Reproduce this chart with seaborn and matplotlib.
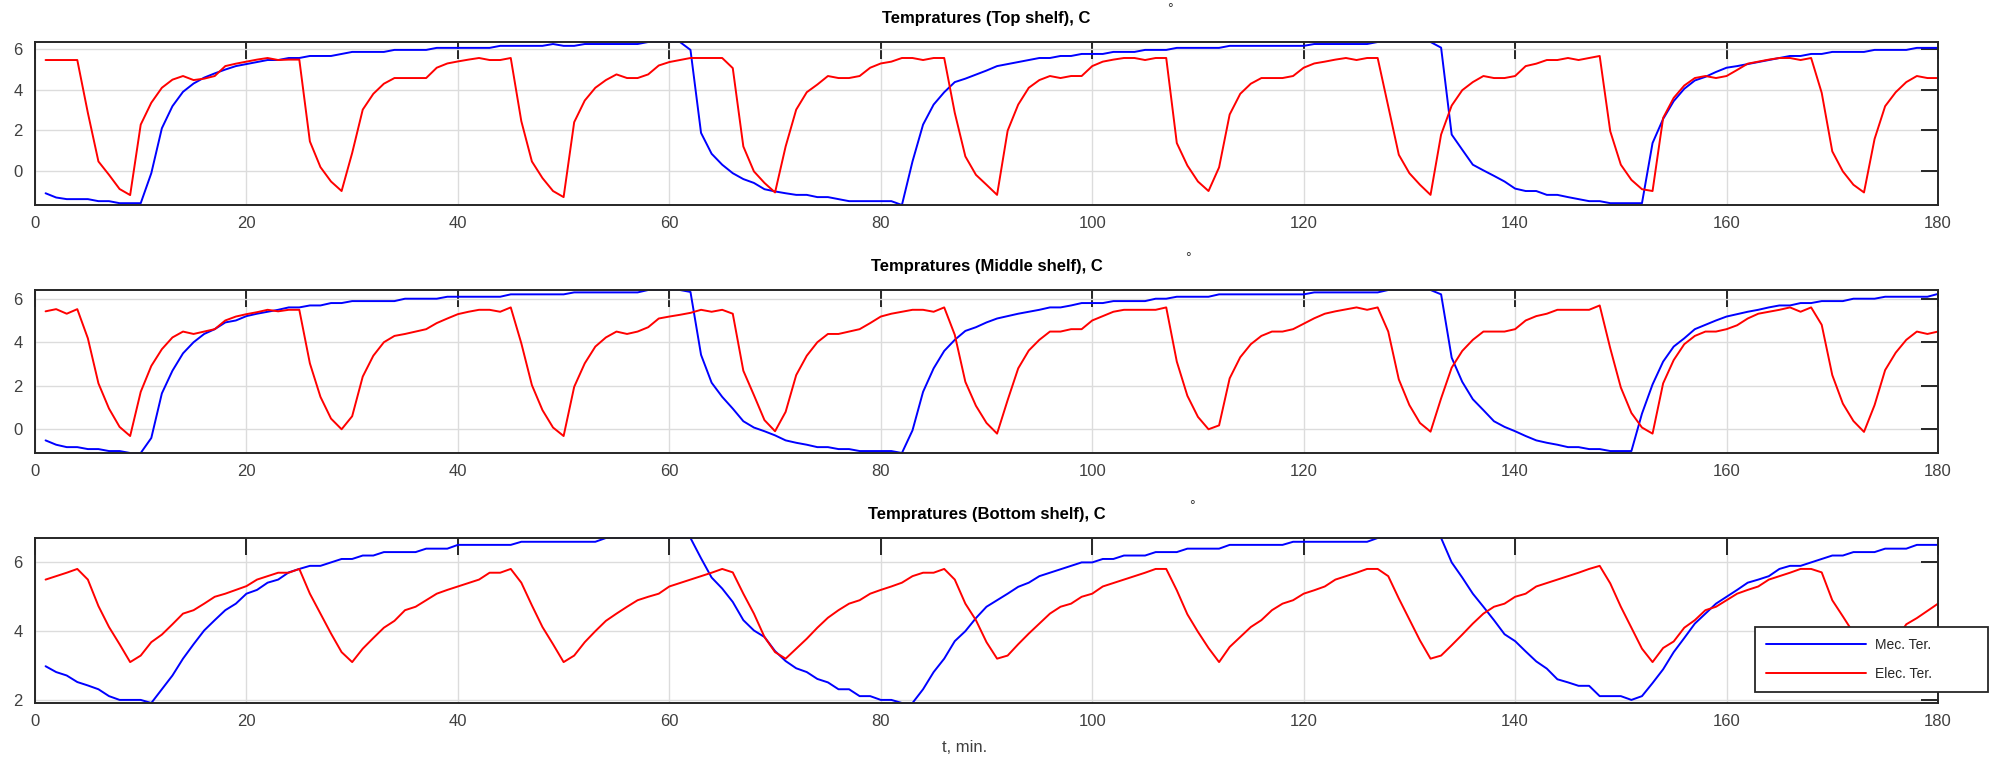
import numpy as np
import pandas as pd
import matplotlib
matplotlib.use("Agg")
import matplotlib.pyplot as plt
import seaborn as sns

# ── Data: temperature readings, one per minute (t = 1..180) ──
T_MIN = list(range(1, 181))

TOP_MEC = [
    -1.11, -1.32, -1.40, -1.40, -1.40, -1.50, -1.50, -1.60, -1.60, -1.60,
    -0.12, 2.10, 3.19, 3.90, 4.31, 4.60, 4.81, 5.00, 5.17, 5.27,
    5.37, 5.47, 5.47, 5.57, 5.57, 5.67, 5.67, 5.67, 5.77, 5.87,
    5.87, 5.87, 5.87, 5.97, 5.97, 5.97, 5.97, 6.07, 6.07, 6.07,
    6.07, 6.07, 6.07, 6.17, 6.17, 6.17, 6.17, 6.17, 6.26, 6.17,
    6.17, 6.26, 6.26, 6.26, 6.26, 6.26, 6.26, 6.36, 6.36, 6.36,
    6.36, 5.97, 1.87, 0.84, 0.30, -0.12, -0.41, -0.60, -0.91, -1.02,
    -1.11, -1.19, -1.19, -1.30, -1.30, -1.40, -1.50, -1.50, -1.50, -1.50,
    -1.50, -1.69, 0.46, 2.28, 3.27, 3.88, 4.38, 4.55, 4.75, 4.95,
    5.17, 5.27, 5.37, 5.47, 5.57, 5.57, 5.67, 5.67, 5.77, 5.77,
    5.77, 5.87, 5.87, 5.87, 5.97, 5.97, 5.97, 6.07, 6.07, 6.07,
    6.07, 6.07, 6.17, 6.17, 6.17, 6.17, 6.17, 6.17, 6.17, 6.17,
    6.26, 6.26, 6.26, 6.26, 6.26, 6.26, 6.36, 6.36, 6.36, 6.36,
    6.36, 6.36, 6.08, 1.79, 1.04, 0.30, 0.02, -0.25, -0.53, -0.88,
    -1.00, -1.00, -1.19, -1.19, -1.30, -1.40, -1.50, -1.50, -1.60, -1.60,
    -1.60, -1.60, 1.37, 2.56, 3.44, 4.05, 4.46, 4.64, 4.88, 5.09,
    5.17, 5.27, 5.37, 5.47, 5.57, 5.67, 5.67, 5.77, 5.77, 5.87,
    5.87, 5.87, 5.87, 5.97, 5.97, 5.97, 5.97, 6.07, 6.07, 6.07,
]
TOP_ELEC = [
    5.47, 5.47, 5.47, 5.47, 2.86, 0.46, -0.20, -0.90, -1.20, 2.28,
    3.36, 4.10, 4.50, 4.68, 4.48, 4.55, 4.68, 5.17, 5.29, 5.39,
    5.49, 5.57, 5.47, 5.49, 5.49, 1.45, 0.18, -0.53, -1.00, 0.88,
    3.02, 3.80, 4.30, 4.58, 4.58, 4.58, 4.58, 5.09, 5.30, 5.40,
    5.49, 5.57, 5.47, 5.47, 5.57, 2.45, 0.46, -0.36, -1.00, -1.30,
    2.40, 3.47, 4.10, 4.48, 4.76, 4.58, 4.58, 4.76, 5.20, 5.37,
    5.47, 5.57, 5.57, 5.57, 5.57, 5.07, 1.20, -0.03, -0.60, -1.07,
    1.20, 3.02, 3.88, 4.26, 4.68, 4.58, 4.58, 4.68, 5.09, 5.30,
    5.39, 5.57, 5.57, 5.47, 5.57, 5.57, 2.86, 0.71, -0.20, -0.69,
    -1.19, 1.98, 3.27, 4.10, 4.48, 4.68, 4.58, 4.68, 4.68, 5.17,
    5.39, 5.49, 5.57, 5.57, 5.47, 5.57, 5.57, 1.37, 0.26, -0.53,
    -1.00, 0.17, 2.78, 3.80, 4.30, 4.58, 4.58, 4.58, 4.68, 5.09,
    5.30, 5.39, 5.49, 5.57, 5.47, 5.57, 5.57, 3.19, 0.79, -0.12,
    -0.69, -1.19, 1.79, 3.22, 3.98, 4.38, 4.68, 4.58, 4.58, 4.68,
    5.17, 5.29, 5.47, 5.47, 5.57, 5.47, 5.57, 5.67, 1.95, 0.30,
    -0.45, -0.91, -1.00, 2.61, 3.60, 4.21, 4.58, 4.68, 4.58, 4.68,
    4.98, 5.29, 5.39, 5.49, 5.57, 5.57, 5.47, 5.57, 3.85, 0.96,
    -0.03, -0.69, -1.07, 1.57, 3.19, 3.88, 4.38, 4.68, 4.58, 4.58,
]

MID_MEC = [
    -0.51, -0.71, -0.82, -0.82, -0.91, -0.91, -1.00, -1.00, -1.09, -1.09,
    -0.40, 1.65, 2.69, 3.49, 4.00, 4.38, 4.60, 4.91, 5.00, 5.20,
    5.31, 5.40, 5.49, 5.60, 5.60, 5.69, 5.69, 5.80, 5.80, 5.89,
    5.89, 5.89, 5.89, 5.89, 6.00, 6.00, 6.00, 6.00, 6.09, 6.09,
    6.09, 6.09, 6.09, 6.09, 6.20, 6.20, 6.20, 6.20, 6.20, 6.20,
    6.29, 6.29, 6.29, 6.29, 6.29, 6.29, 6.29, 6.40, 6.40, 6.40,
    6.40, 6.31, 3.42, 2.14, 1.49, 0.95, 0.37, 0.08, -0.09, -0.28,
    -0.51, -0.62, -0.71, -0.82, -0.82, -0.91, -0.91, -1.00, -1.00, -1.00,
    -1.00, -1.09, -0.05, 1.72, 2.80, 3.60, 4.11, 4.52, 4.69, 4.91,
    5.09, 5.20, 5.31, 5.40, 5.49, 5.60, 5.60, 5.69, 5.80, 5.80,
    5.80, 5.89, 5.89, 5.89, 5.89, 6.00, 6.00, 6.09, 6.09, 6.09,
    6.09, 6.20, 6.20, 6.20, 6.20, 6.20, 6.20, 6.20, 6.20, 6.20,
    6.29, 6.29, 6.29, 6.29, 6.29, 6.29, 6.29, 6.40, 6.40, 6.40,
    6.40, 6.40, 6.20, 3.29, 2.18, 1.38, 0.88, 0.37, 0.11, -0.09,
    -0.31, -0.51, -0.62, -0.71, -0.82, -0.82, -0.91, -0.91, -1.00, -1.00,
    -1.00, 0.72, 2.06, 3.11, 3.80, 4.18, 4.60, 4.80, 5.00, 5.18,
    5.29, 5.40, 5.49, 5.60, 5.69, 5.69, 5.80, 5.80, 5.89, 5.89,
    5.89, 6.00, 6.00, 6.00, 6.09, 6.09, 6.09, 6.09, 6.09, 6.22,
]
MID_ELEC = [
    5.42, 5.52, 5.31, 5.52, 4.18, 2.11, 0.95, 0.11, -0.31, 1.72,
    2.91, 3.68, 4.22, 4.49, 4.38, 4.49, 4.60, 5.00, 5.18, 5.29,
    5.38, 5.49, 5.42, 5.49, 5.49, 3.03, 1.49, 0.49, 0.00, 0.60,
    2.42, 3.38, 4.00, 4.29, 4.38, 4.49, 4.60, 4.88, 5.09, 5.29,
    5.40, 5.49, 5.49, 5.40, 5.60, 3.95, 2.03, 0.88, 0.08, -0.31,
    1.95, 3.03, 3.80, 4.22, 4.49, 4.38, 4.49, 4.69, 5.09, 5.18,
    5.26, 5.35, 5.49, 5.40, 5.49, 5.31, 2.69, 1.57, 0.42, -0.09,
    0.80, 2.49, 3.38, 4.00, 4.38, 4.38, 4.49, 4.60, 4.88, 5.18,
    5.31, 5.40, 5.49, 5.49, 5.40, 5.60, 4.34, 2.18, 1.08, 0.29,
    -0.20, 1.34, 2.80, 3.62, 4.11, 4.49, 4.49, 4.60, 4.60, 5.00,
    5.20, 5.40, 5.49, 5.49, 5.49, 5.49, 5.60, 3.11, 1.54, 0.57,
    0.00, 0.18, 2.34, 3.31, 3.91, 4.29, 4.49, 4.49, 4.60, 4.85,
    5.10, 5.31, 5.42, 5.51, 5.60, 5.49, 5.60, 4.49, 2.29, 1.11,
    0.29, -0.11, 1.42, 2.83, 3.60, 4.11, 4.49, 4.49, 4.49, 4.60,
    5.00, 5.20, 5.31, 5.49, 5.49, 5.49, 5.49, 5.69, 3.72, 1.92,
    0.75, 0.08, -0.20, 2.11, 3.18, 3.91, 4.29, 4.49, 4.49, 4.60,
    4.78, 5.09, 5.31, 5.40, 5.49, 5.60, 5.40, 5.60, 4.80, 2.49,
    1.18, 0.38, -0.12, 1.11, 2.72, 3.52, 4.11, 4.49, 4.38, 4.49,
]

BOT_MEC = [
    2.98, 2.81, 2.71, 2.52, 2.42, 2.31, 2.11, 2.00, 2.00, 2.00,
    1.91, 2.31, 2.71, 3.20, 3.62, 4.02, 4.32, 4.61, 4.80, 5.09,
    5.20, 5.41, 5.50, 5.71, 5.81, 5.90, 5.90, 6.00, 6.10, 6.10,
    6.20, 6.20, 6.30, 6.30, 6.30, 6.30, 6.40, 6.40, 6.40, 6.51,
    6.51, 6.51, 6.51, 6.51, 6.51, 6.60, 6.60, 6.60, 6.60, 6.60,
    6.60, 6.60, 6.60, 6.71, 6.71, 6.71, 6.71, 6.71, 6.71, 6.71,
    6.71, 6.71, 6.12, 5.56, 5.24, 4.85, 4.32, 4.02, 3.83, 3.42,
    3.13, 2.92, 2.81, 2.61, 2.51, 2.31, 2.31, 2.11, 2.11, 2.00,
    2.00, 1.91, 1.91, 2.31, 2.81, 3.20, 3.71, 4.00, 4.38, 4.71,
    4.90, 5.09, 5.29, 5.41, 5.60, 5.70, 5.80, 5.90, 6.00, 6.00,
    6.10, 6.10, 6.20, 6.20, 6.20, 6.30, 6.30, 6.30, 6.40, 6.40,
    6.40, 6.40, 6.51, 6.51, 6.51, 6.51, 6.51, 6.51, 6.60, 6.60,
    6.60, 6.60, 6.60, 6.60, 6.60, 6.60, 6.71, 6.71, 6.71, 6.71,
    6.71, 6.71, 6.71, 6.00, 5.56, 5.09, 4.71, 4.32, 3.91, 3.71,
    3.41, 3.12, 2.91, 2.60, 2.51, 2.41, 2.41, 2.11, 2.11, 2.11,
    2.00, 2.11, 2.49, 2.89, 3.39, 3.80, 4.22, 4.51, 4.80, 5.00,
    5.20, 5.41, 5.50, 5.60, 5.81, 5.90, 5.90, 6.00, 6.10, 6.20,
    6.20, 6.30, 6.30, 6.30, 6.40, 6.40, 6.40, 6.51, 6.51, 6.51,
]
BOT_ELEC = [
    5.50, 5.60, 5.70, 5.81, 5.50, 4.73, 4.12, 3.62, 3.10, 3.29,
    3.68, 3.90, 4.20, 4.51, 4.61, 4.80, 5.00, 5.09, 5.20, 5.31,
    5.50, 5.60, 5.70, 5.70, 5.81, 5.09, 4.51, 3.93, 3.39, 3.10,
    3.49, 3.80, 4.10, 4.30, 4.61, 4.71, 4.90, 5.09, 5.20, 5.30,
    5.40, 5.50, 5.70, 5.70, 5.81, 5.41, 4.75, 4.12, 3.62, 3.10,
    3.29, 3.68, 4.00, 4.30, 4.51, 4.71, 4.90, 5.00, 5.09, 5.30,
    5.40, 5.50, 5.60, 5.70, 5.81, 5.71, 5.09, 4.51, 3.83, 3.39,
    3.20, 3.49, 3.78, 4.10, 4.39, 4.61, 4.80, 4.90, 5.09, 5.20,
    5.30, 5.41, 5.60, 5.70, 5.70, 5.81, 5.50, 4.80, 4.32, 3.68,
    3.20, 3.29, 3.62, 3.93, 4.22, 4.51, 4.71, 4.80, 5.00, 5.09,
    5.30, 5.40, 5.50, 5.60, 5.70, 5.81, 5.81, 5.19, 4.49, 3.98,
    3.51, 3.10, 3.54, 3.83, 4.12, 4.32, 4.61, 4.80, 4.90, 5.09,
    5.19, 5.30, 5.50, 5.60, 5.70, 5.81, 5.81, 5.60, 4.95, 4.34,
    3.73, 3.20, 3.29, 3.59, 3.90, 4.22, 4.51, 4.71, 4.80, 5.00,
    5.09, 5.30, 5.40, 5.50, 5.60, 5.70, 5.81, 5.90, 5.39, 4.71,
    4.10, 3.49, 3.10, 3.51, 3.70, 4.10, 4.32, 4.61, 4.71, 4.90,
    5.09, 5.20, 5.30, 5.50, 5.60, 5.70, 5.81, 5.81, 5.71, 4.90,
    4.43, 3.95, 3.45, 3.10, 3.40, 3.75, 4.20, 4.38, 4.59, 4.80,
]

SHELVES = ["Top shelf", "Middle shelf", "Bottom shelf"]
SERIES_NAMES = ["Mec. Ter.", "Elec. Ter."]
X_TICKS = list(range(0, 181, 20))
Y_TICKS = [[0, 2, 4, 6], [0, 2, 4, 6], [2, 4, 6]]

PALETTE = {"Mec. Ter.": "#0000FF", "Elec. Ter.": "#FF0000"}
TICK_COLOR = "#262626"
LABEL_COLOR = "#404040"

sns.set_theme(style="white")
plt.rcParams["font.family"] = ["Liberation Sans", "DejaVu Sans"]

W, H = 1990, 757
fig = plt.figure(figsize=(W / 100, H / 100), dpi=100)

# axes boxes in pixels: (top, bottom)
LEFT_PX, RIGHT_PX = 35, 1938
AX_ROWS_PX = [(42, 205), (290, 453), (538, 703)]
DEG_MARKS_PX = [(1170, 13), (1188, 262), (1192, 510)]

panels = [(TOP_MEC, TOP_ELEC), (MID_MEC, MID_ELEC), (BOT_MEC, BOT_ELEC)]

axes = []
for i, ((mec, elec), (top, bot)) in enumerate(zip(panels, AX_ROWS_PX)):
    ax = fig.add_axes([LEFT_PX / W, 1 - bot / H, (RIGHT_PX - LEFT_PX) / W, (bot - top) / H])
    df = pd.DataFrame({
        "t": T_MIN * 2,
        "temp": list(mec) + list(elec),
        "kind": [SERIES_NAMES[0]] * len(mec) + [SERIES_NAMES[1]] * len(elec),
    })
    sns.lineplot(data=df, x="t", y="temp", hue="kind", palette=PALETTE,
                 estimator=None, errorbar=None, linewidth=1.4,
                 legend=(i == 2), ax=ax)
    for ln in ax.get_lines():
        ln.set_clip_on(False)

    lo = min(min(mec), min(elec))
    hi = max(max(mec), max(elec))
    ax.set_xlim(0, 180)
    ax.set_ylim(lo, hi)
    ax.set_xticks(X_TICKS)
    ax.set_yticks(Y_TICKS[i])
    ax.set_xlabel("")
    ax.set_ylabel("")

    ax.grid(True, color="#dcdcdc", linewidth=1.0)
    ax.set_axisbelow(True)
    for sp in ax.spines.values():
        sp.set_color(TICK_COLOR)
        sp.set_linewidth(1.4)
    ax.tick_params(direction="in", top=True, right=True, length=12, width=1.4,
                   color=TICK_COLOR, labelcolor=LABEL_COLOR, labelsize=12)
    ax.tick_params(axis="x", pad=8)
    ax.tick_params(axis="y", pad=9)

    ax.text(0.5, 1 + 24 / (bot - top), f"Tempratures ({SHELVES[i]}), C",
            transform=ax.transAxes, ha="center", va="center",
            fontsize=12, fontweight="bold", color="black")
    axes.append(ax)

for x, y in DEG_MARKS_PX:
    fig.text(x / W, 1 - y / H, "°", ha="center", va="baseline",
             fontsize=10, color="#333333")

fig.text(965 / W, 1 - 748 / H, "t, min.", ha="center", va="center",
         fontsize=12, color=LABEL_COLOR)

# legend box sitting over the right edge of the bottom panel
leg = axes[2].legend(
    loc="upper left",
    bbox_to_anchor=(1755 / W, 1 - 694 / H, 233 / W, 67 / H),
    bbox_transform=fig.transFigure, mode="expand", borderaxespad=0,
    fontsize=10, handlelength=7.2, handletextpad=0.65,
    borderpad=0.8, labelspacing=1.05, frameon=True, fancybox=False,
    framealpha=1, edgecolor=TICK_COLOR, title=None,
)
leg.set_zorder(10)
leg.get_frame().set_linewidth(1.3)
for txt in leg.get_texts():
    txt.set_color("#262626")

fig.savefig("out.png", dpi=100)
plt.close(fig)
